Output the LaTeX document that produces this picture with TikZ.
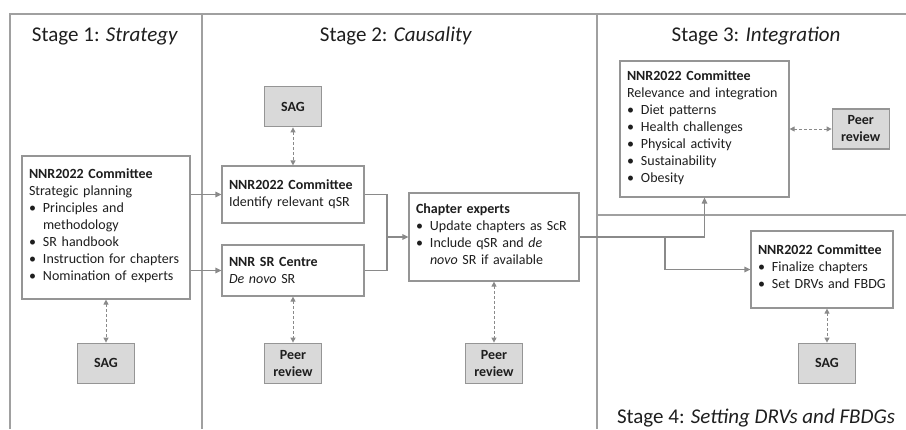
\documentclass[tikz,border=0pt]{standalone}
\usepackage{fontspec}
\setmainfont{Carlito}
\usetikzlibrary{arrows.meta,positioning}

\definecolor{framegray}{HTML}{A0A0A0}
\definecolor{boxgray}{HTML}{959595}
\definecolor{linegray}{HTML}{8A8A8A}
\definecolor{sagfill}{HTML}{D9D9D9}
\definecolor{inkblack}{HTML}{1E1E1E}

\setlength{\parindent}{0pt}
% bullet list: one row per line, bullet column 14pt wide
\newcommand{\bullets}[1]{\par\noindent\begin{tabular}[t]{@{}p{14pt}@{}l@{}}#1\end{tabular}}

\begin{document}
\begin{tikzpicture}[
    x=1pt, y=1pt,
    panelbox/.style={
        rectangle,
        draw=boxgray,
        line width=1.2pt,
        fill=white,
        inner xsep=7pt,
        inner ysep=4pt,
        align=left,
        text=inkblack,
        font=\fontsize{14}{17}\selectfont,
    },
    greybox/.style={
        rectangle,
        draw=boxgray,
        line width=1.2pt,
        fill=sagfill,
        minimum width=57pt,
        minimum height=40pt,
        inner sep=0pt,
        align=center,
        text=inkblack,
        font=\fontsize{14}{17}\selectfont\bfseries,
    },
    stagetitle/.style={
        anchor=base,
        text=inkblack,
        font=\fontsize{21}{25}\selectfont,
    },
    divider/.style={
        draw=framegray,
        line width=1.3pt,
    },
    flowarrow/.style={
        -{Triangle[length=6pt, width=5.5pt]},
        draw=linegray,
        line width=1.2pt,
    },
    dasharrow/.style={
        {Triangle[length=5pt, width=5pt]}-{Triangle[length=5pt, width=5pt]},
        draw=linegray,
        line width=1pt,
        dash pattern=on 3pt off 2pt,
    },
]

\useasboundingbox (0,0) rectangle (906,-429);

% === Frame and stage dividers ===
\draw[divider] (10,-429) -- (10,-14) -- (906,-14);
\draw[divider] (202,-14) -- (202,-429);
\draw[divider] (597,-14) -- (597,-429);
\draw[divider] (597,-215) -- (906,-215);

% === Titles ===
\node[stagetitle] (title1) at (105,-41) {Stage 1: \textit{Strategy}};
\node[stagetitle] (title2) at (396,-41) {Stage 2: \textit{Causality}};
\node[stagetitle] (title3) at (756,-41) {Stage 3: \textit{Integration}};
\node[stagetitle] (title4) at (756,-423) {Stage 4: \textit{Setting DRVs and FBDGs}};

% === Stage 1: Strategy ===
\node[panelbox, text width=154pt, minimum height=143pt] (plan) at (106,-227.5) {
    \textbf{NNR2022 Committee}\\
    Strategic planning
    \bullets{
        \textbullet & Principles and\\
                    & methodology\\
        \textbullet & SR handbook\\
        \textbullet & Instruction for chapters\\
        \textbullet & Nomination of experts
    }
};
\node[greybox, below=43pt of plan] (sagplan) {SAG};

% === Stage 2: Causality ===
\node[panelbox, text width=128pt, minimum height=57pt] (ident) at (293,-194.5) {
    \textbf{NNR2022 Committee}\\
    Identify relevant qSR
};
\node[greybox, above=38pt of ident] (sagident) {SAG};

\node[panelbox, text width=128pt, minimum height=51pt] (centre) at (293,-270.5) {
    \textbf{NNR SR Centre}\\
    \textit{De novo} SR
};
\node[greybox, below=46pt of centre] (peercentre) {Peer\\review};

\node[panelbox, text width=156pt, minimum height=88pt] (experts) at (494,-237) {
    \textbf{Chapter experts}
    \bullets{
        \textbullet & Update chapters as ScR\\
        \textbullet & Include qSR and \textit{de}\\
                    & \textit{novo} SR if available
    }
};
\node[greybox, below=61pt of experts] (peerexperts) {Peer\\review};

% === Stage 3: Integration ===
\node[panelbox, text width=155pt, minimum height=136pt] (relevance) at (704.5,-129) {
    \textbf{NNR2022 Committee}\\
    Relevance and integration
    \bullets{
        \textbullet & Diet patterns\\
        \textbullet & Health challenges\\
        \textbullet & Physical activity\\
        \textbullet & Sustainability\\
        \textbullet & Obesity
    }
};
\node[greybox, right=42pt of relevance] (peerrelevance) {Peer\\review};

% === Stage 4: Setting DRVs and FBDGs ===
\node[panelbox, text width=128pt, minimum height=77pt] (final) at (822,-269.5) {
    \textbf{NNR2022 Committee}
    \bullets{
        \textbullet & Finalize chapters\\
        \textbullet & Set DRVs and FBDG
    }
};
\node[greybox, below=34pt of final, xshift=5pt] (sagfinal) {SAG};

% === Arrows ===
\coordinate (merge) at (387,-237);
\coordinate (split) at (665,-237);
\draw[flowarrow] (plan.east |- ident.west) -- (ident.west);
\draw[flowarrow] (plan.east |- centre.west) -- (centre.west);
\draw[flowarrow] (ident.east) -| (merge) -- (experts.west);
\draw[flowarrow, -] (centre.east) -| (merge);
\draw[flowarrow] (experts.east) -| (relevance.south);
\draw[flowarrow] (split) |- (final.west);

% === Review loops ===
\draw[dasharrow] (plan.south) -- (sagplan.north);
\draw[dasharrow] (sagident.south) -- (ident.north);
\draw[dasharrow] (centre.south) -- (peercentre.north);
\draw[dasharrow] (experts.south) -- (peerexperts.north);
\draw[dasharrow] (relevance.east) -- (peerrelevance.west);
\draw[dasharrow] (sagfinal.north |- final.south) -- (sagfinal.north);

\end{tikzpicture}
\end{document}
